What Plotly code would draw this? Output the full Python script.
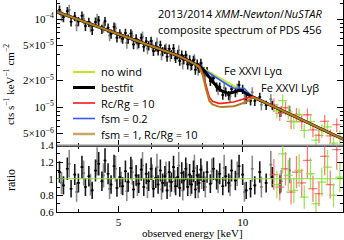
import math
import plotly.graph_objects as go

# ---------------- data (flux in units of 1e-5 cts s^-1 keV^-1 cm^-2) ----------------
FLUX_UNIT = 1e-5

pn_energy = [3.60, 3.68, 3.76, 3.84, 3.92, 4.00, 4.08, 4.16, 4.24, 4.32, 4.40, 4.48, 4.56, 4.64,
             4.72, 4.80, 4.88, 4.96, 5.04, 5.12, 5.20, 5.28, 5.36, 5.44, 5.52, 5.60, 5.68, 5.76,
             5.84, 5.92, 6.00, 6.08, 6.16, 6.24, 6.32, 6.40, 6.48, 6.56, 6.64, 6.72, 6.80, 6.88,
             6.96, 7.04, 7.12, 7.20, 7.28, 7.36, 7.44, 7.52, 7.60, 7.68, 7.76, 7.84, 7.92,
             8.05, 8.2, 8.35, 8.5, 8.65, 8.8, 8.95, 9.1, 9.25, 9.4, 9.6, 9.8, 10.0, 10.2, 10.45,
             10.7, 11.0, 11.4, 11.8, 12.3]
pn_flux = [12.72, 10.45, 12.26, 9.31, 10.72, 9.38, 10.89, 8.33, 9.23, 7.47, 9.26, 9.64, 7.70, 9.41,
           7.94, 6.78, 8.15, 6.14, 6.84, 5.95, 6.94, 5.96, 6.85, 5.14, 6.00, 5.29, 6.11, 4.83,
           5.57, 4.98, 5.62, 4.32, 4.85, 4.37, 5.06, 4.28, 4.54, 3.72, 4.58, 3.98, 4.63, 3.59,
           3.93, 3.34, 3.91, 3.48, 3.88, 3.04, 3.45, 2.99, 3.41, 2.65, 3.10, 2.76, 3.15,
           2.54, 2.55, 1.97, 2.12, 1.69, 1.69, 1.37, 1.49, 1.36, 1.60, 1.47, 1.78, 1.60, 1.24, 1.18,
           1.17, 1.30, 1.05, 1.05, 0.873]
pn_ratio = [1.08, 0.92, 1.12, 0.88, 1.05, 0.95, 1.14, 0.90, 1.03, 0.86, 1.10, 1.18, 0.97, 1.22,
            1.06, 0.93, 1.15, 0.89, 1.02, 0.91, 1.09, 0.96, 1.13, 0.87, 1.04, 0.94, 1.11, 0.90,
            1.06, 0.97, 1.12, 0.88, 1.01, 0.93, 1.10, 0.95, 1.03, 0.86, 1.08, 0.96, 1.14, 0.91,
            1.02, 0.89, 1.07, 0.98, 1.12, 0.90, 1.05, 0.93, 1.09, 0.87, 1.04, 0.95, 1.11,
            0.97, 1.08, 0.94, 1.12, 0.99, 1.06, 0.91, 1.03, 0.95, 1.10, 0.98, 1.15, 1.05, 0.86, 0.88,
            0.92, 1.08, 0.95, 1.02, 0.93]

mos_energy = [3.64, 3.80, 3.96, 4.12, 4.28, 4.44, 4.60, 4.76, 4.92, 5.08, 5.24, 5.40, 5.56, 5.72,
              5.88, 6.04, 6.20, 6.36, 6.52, 6.68, 6.84, 7.00, 7.16, 7.32, 7.48, 7.64, 7.80, 7.96,
              8.12, 8.42, 8.72, 9.02, 9.32, 9.7, 10.1, 10.55, 11.1, 11.7, 12.4, 13.0]
mos_flux = [10.98, 12.70, 8.43, 10.06, 8.20, 10.04, 8.13, 6.50, 7.83, 6.30, 5.35, 6.46, 5.24, 6.31,
            4.62, 5.11, 5.42, 3.96, 4.63, 3.81, 3.89, 4.41, 3.10, 3.56, 2.99, 3.49, 2.63, 2.86,
            2.25, 2.17, 1.58, 1.66, 1.32, 1.61, 1.24, 1.47, 1.06, 1.23, 0.894, 0.914]
mos_ratio = [0.95, 1.18, 0.84, 1.07, 0.93, 1.21, 1.04, 0.88, 1.12, 0.95, 0.85, 1.08, 0.92, 1.16,
             0.89, 1.03, 1.14, 0.87, 1.06, 0.91, 0.97, 1.16, 0.86, 1.04, 0.92, 1.13, 0.89, 1.02,
             0.90, 1.09, 0.96, 1.13, 0.92, 1.06, 0.84, 1.12, 0.90, 1.17, 0.97, 1.10]

fpma_energy = [11.9, 12.3, 12.7, 13.1, 13.5, 13.9, 14.35, 14.8, 15.3, 15.8, 16.3, 16.9]
fpma_flux = [1.06, 0.845, 0.98, 0.686, 0.826, 0.681, 0.816, 0.55, 0.476, 0.687, 0.470, 0.630]
fpma_ratio = [1.05, 0.90, 1.12, 0.84, 1.08, 0.95, 1.22, 0.88, 0.82, 1.27, 0.93, 1.35]

fpmb_energy = [12.1, 12.5, 12.9, 13.3, 13.7, 14.1, 14.6, 15.05, 15.55, 16.05, 16.6, 17.2]
fpmb_flux = [0.905, 1.18, 0.879, 0.680, 0.815, 0.542, 0.683, 0.421, 0.538, 0.596, 0.388, 0.458]
fpmb_ratio = [0.93, 1.30, 1.04, 0.86, 1.10, 0.78, 1.06, 0.70, 0.96, 1.14, 0.80, 1.02]

model_energy = [3.5, 4, 4.5, 5, 5.5, 6, 6.5, 7, 7.5, 7.7, 7.86,
                8.0, 8.15, 8.3, 8.45, 8.6, 8.75, 8.9, 9.05, 9.2, 9.35, 9.5, 9.65, 9.8, 9.95,
                10.1, 10.25, 10.4, 10.57, 11, 12, 14, 16, 18]
model_nowind = [12.35, 9.87, 8.11, 6.80, 5.80, 5.02, 4.39, 3.80, 3.23, 3.04, 2.90,
                2.76, 2.63, 2.50, 2.38, 2.27, 2.17, 2.07, 1.98, 1.90, 1.82, 1.74, 1.67, 1.60, 1.54,
                1.47, 1.42, 1.36, 1.31, 1.20, 0.992, 0.708, 0.527, 0.406]
model_bestfit = [12.35, 9.87, 8.11, 6.80, 5.80, 5.02, 4.39, 3.80, 3.23, 3.04, 2.90,
                 2.70, 2.45, 2.18, 1.95, 1.76, 1.62, 1.52, 1.46, 1.43, 1.44, 1.47, 1.51, 1.55, 1.54,
                 1.46, 1.40, 1.35, 1.31, 1.20, 0.992, 0.708, 0.527, 0.406]
model_rcrg10 = [12.35, 9.87, 8.11, 6.80, 5.80, 5.02, 4.39, 3.80, 3.23, 3.04, 2.90,
                2.45, 1.75, 1.30, 1.16, 1.12, 1.10, 1.10, 1.105, 1.11, 1.12, 1.14, 1.16, 1.18, 1.21,
                1.24, 1.27, 1.30, 1.31, 1.20, 0.992, 0.708, 0.527, 0.406]
model_fsm02 = [12.35, 9.87, 8.11, 6.80, 5.80, 5.02, 4.39, 3.80, 3.23, 3.04, 2.90,
               2.70, 2.55, 2.42, 2.30, 2.18, 2.07, 1.96, 1.87, 1.78, 1.70, 1.645, 1.645, 1.645, 1.645,
               1.62, 1.50, 1.42, 1.31, 1.20, 0.992, 0.708, 0.527, 0.406]
model_fsm1 = [12.35, 9.87, 8.11, 6.80, 5.80, 5.02, 4.39, 3.80, 3.23, 3.04, 2.80,
              2.30, 1.60, 1.18, 1.07, 1.03, 1.01, 1.00, 1.00, 1.00, 1.01, 1.02, 1.04, 1.06, 1.09,
              1.12, 1.16, 1.21, 1.28, 1.20, 0.992, 0.708, 0.527, 0.406]

legend_labels = ["no wind", "bestfit", "Rc/Rg = 10", "fsm = 0.2", "fsm = 1, Rc/Rg = 10"]

flux_tickvals = [1e-4, 5e-5, 2e-5, 1e-5, 5e-6]
flux_ticktext = ["10<sup>−4</sup>", "5×10<sup>−5</sup>", "2×10<sup>−5</sup>",
                 "10<sup>−5</sup>", "5×10<sup>−6</sup>"]
flux_minor = [1.5e-4, 9e-5, 8e-5, 7e-5, 6e-5, 4e-5, 3e-5, 9e-6, 8e-6, 7e-6, 6e-6, 4e-6]
ratio_tickvals = [0.6, 0.8, 1.0, 1.2, 1.4]
ratio_ticktext = ["0.6", "0.8", "1", "1.2", "1.4"]
ratio_minor = [0.7, 0.9, 1.1, 1.3]
energy_tickvals = [5, 10]
energy_ticktext = ["5", "10"]
energy_minor = [4, 6, 7, 8, 9]

# ---------------- styling ----------------
W, H = 344, 240
ML, MR, MT, MB = 57, 1, 0, 28
PW, PH = W - ML - MR, H - MT - MB
SPLIT = 1 - 145.5 / PH

def px_x(px):
    return (px - ML) / PW

def px_y(py):
    return 1 - (py - MT) / PH

SERIF = "Liberation Serif"
SANS = "Open Sans"

def scale(vals):
    return [v * FLUX_UNIT for v in vals]

fig = go.Figure()

datasets = [
    (mos_energy, mos_flux, mos_ratio, "rgba(120,120,120,0.85)", 14, 0.8, 1.6),
    (pn_energy, pn_flux, pn_ratio, "rgba(0,0,0,0.9)", 12, 0.8, 1.6),
    (fpma_energy, fpma_flux, fpma_ratio, "rgba(255,80,80,0.75)", 18, 2.5, 1.3),
    (fpmb_energy, fpmb_flux, fpmb_ratio, "rgba(140,225,60,0.85)", 18, 2.5, 1.3),
]
for en, fl, ra, col, perr, xerr, th in datasets:
    for yv, xa, ya in ((scale(fl), "x", "y"), (ra, "x2", "y2")):
        fig.add_trace(go.Scatter(
            x=en, y=yv, mode="markers", xaxis=xa, yaxis=ya, showlegend=False,
            marker=dict(size=2, color=col),
            error_y=dict(type="percent", value=perr, color=col, thickness=th, width=0),
            error_x=dict(type="percent", value=xerr, color=col, thickness=th, width=0),
        ))

models = [
    (model_nowind, "#c4e62c", 2.0),
    (model_bestfit, "#000000", 3.0),
    (model_rcrg10, "#ff1a1a", 1.6),
    (model_fsm02, "#2f5cff", 1.6),
    (model_fsm1, "#b07d1e", 2.0),
]
draw_order = [0, 3, 1, 2, 4]
for i in draw_order:
    vals, col, w = models[i]
    fig.add_trace(go.Scatter(
        x=model_energy, y=scale(vals), mode="lines", xaxis="x", yaxis="y",
        line=dict(color=col, width=w), name=legend_labels[i], showlegend=False,
    ))

# unity line in ratio panel
fig.add_shape(type="line", xref="x2 domain", x0=0, x1=1, yref="y2", y0=1, y1=1,
              line=dict(color="#8fdc3c", width=1), layer="above")
# panel separator
fig.add_shape(type="line", xref="paper", x0=0, x1=1, yref="paper", y0=SPLIT, y1=SPLIT,
              line=dict(color="#8c8c8c", width=2), layer="above")

# manual legend
legend_colors = ["#c4e62c", "#000000", "#ff1a1a", "#2f5cff", "#c9a466"]
legend_widths = [2.0, 3.0, 1.6, 1.6, 2.5]
for i, lab in enumerate(legend_labels):
    yy = px_y(72 + 15.5 * i)
    fig.add_shape(type="line", xref="paper", yref="paper", x0=px_x(73), x1=px_x(95),
                  y0=yy, y1=yy, line=dict(color=legend_colors[i], width=legend_widths[i]))
    fig.add_annotation(xref="paper", yref="paper", x=px_x(99), y=yy, text=lab,
                       showarrow=False, xanchor="left", yanchor="middle",
                       font=dict(family=SANS, size=11, color="black"))

annos = [
    ("2013/2014 <i>XMM-Newton</i>/<i>NuSTAR</i>", 156, 13),
    ("composite spectrum of PDS 456", 156, 29),
    ("Fe XXVI Lyα", 222, 70),
    ("Fe XXVI Lyβ", 259, 87),
]
for txt, xx, yy in annos:
    fig.add_annotation(xref="paper", yref="paper", x=px_x(xx), y=px_y(yy), text=txt,
                       showarrow=False, xanchor="left", yanchor="middle",
                       font=dict(family=SANS, size=11, color="black"))

fig.add_annotation(xref="paper", yref="paper", x=px_x(9), y=px_y(85),
                   text="cts s<sup>−1</sup> keV<sup>−1</sup> cm<sup>−2</sup>", textangle=-90,
                   showarrow=False, xanchor="center", yanchor="middle",
                   font=dict(family=SERIF, size=11, color="black"))
fig.add_annotation(xref="paper", yref="paper", x=px_x(11), y=px_y(180), text="ratio",
                   textangle=-90, showarrow=False, xanchor="center", yanchor="middle",
                   font=dict(family=SERIF, size=12, color="black"))
fig.add_annotation(xref="paper", yref="paper", x=px_x(192), y=px_y(233),
                   text="observed energy [keV]", showarrow=False,
                   xanchor="center", yanchor="middle",
                   font=dict(family=SERIF, size=11, color="black"))

axis_common = dict(showline=True, linecolor="black", linewidth=1, ticks="inside",
                   tickcolor="black", ticklen=6, tickwidth=1, showgrid=False, zeroline=False,
                   automargin=False,
                   tickfont=dict(family=SERIF, size=11, color="black"))

xr = [math.log10(3.55), math.log10(17.5)]
fig.update_layout(
    width=W, height=H, margin=dict(l=ML, r=MR, t=MT, b=MB, autoexpand=False),
    paper_bgcolor="white", plot_bgcolor="white", showlegend=False,
    xaxis=dict(type="log", range=xr, domain=[0, 1], anchor="y", tickvals=energy_tickvals,
               showticklabels=False, mirror=False,
               minor=dict(tickvals=energy_minor, ticks="inside", ticklen=3, tickcolor="black"),
               **axis_common),
    yaxis=dict(type="log", range=[-5.4375, -3.784], domain=[SPLIT, 1], anchor="x",
               tickvals=flux_tickvals, ticktext=flux_ticktext, mirror="ticks",
               minor=dict(tickvals=flux_minor, ticks="inside", ticklen=3, tickcolor="black"),
               **axis_common),
    xaxis2=dict(type="log", range=xr, domain=[0, 1], anchor="y2", matches="x",
                tickvals=energy_tickvals, ticktext=energy_ticktext, mirror="ticks",
                minor=dict(tickvals=energy_minor, ticks="inside", ticklen=3, tickcolor="black"),
                **axis_common),
    yaxis2=dict(range=[0.6, 1.4], domain=[0, SPLIT], anchor="x2",
                tickvals=ratio_tickvals, ticktext=ratio_ticktext, mirror="ticks",
                minor=dict(tickvals=ratio_minor, ticks="inside", ticklen=3, tickcolor="black"),
                **axis_common),
)

fig.write_html("out.html", config={"displayModeBar": False},
               post_script="document.body.style.margin='0';document.body.style.padding='0';")
